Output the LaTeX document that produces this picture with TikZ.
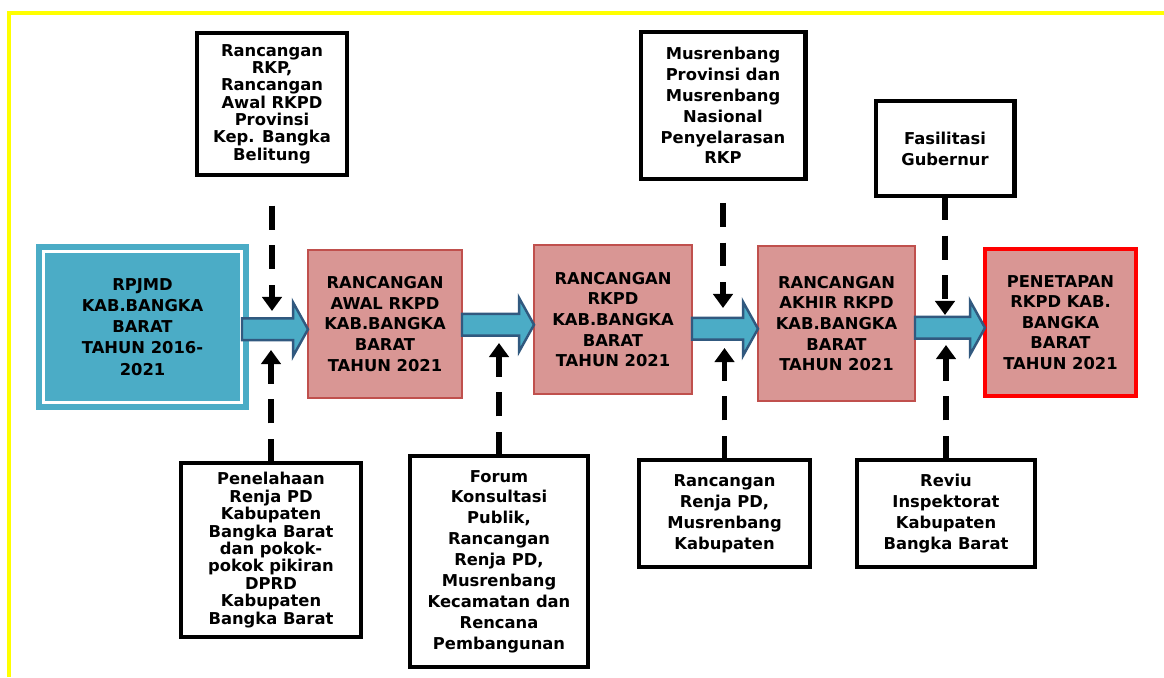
\documentclass[tikz,border=0pt]{standalone}
\usepackage{fontspec}
\usepackage{tikz}
\usetikzlibrary{arrows.meta,calc}
\newfontfamily\boxfont{DejaVu Sans}
\definecolor{aqua}{HTML}{4BACC6}
\definecolor{arrowline}{HTML}{31597F}
\definecolor{rosefill}{HTML}{D99694}
\definecolor{roseline}{HTML}{C0504D}
\definecolor{framey}{HTML}{FFFF00}
\tikzset{
  srcbox/.style={draw=black, line width=2.3pt, fill=white, align=center, inner sep=0pt, outer sep=0pt,
                 font=\boxfont\bfseries\fontsize{9.3}{11.9}\selectfont},
  densebox/.style={srcbox, font=\boxfont\bfseries\fontsize{9.3}{9.9}\selectfont},
  stagebox/.style={draw=roseline, line width=1.1pt, fill=rosefill, align=center, inner sep=0pt, outer sep=0pt,
                   font=\boxfont\bfseries\fontsize{9.3}{11.7}\selectfont},
  finalbox/.style={stagebox, draw=red, line width=2.3pt},
  startbox/.style={stagebox, fill=aqua, draw=aqua, double=white, line width=3.2pt, double distance=1.7pt,
                   font=\boxfont\bfseries\fontsize{9.3}{12}\selectfont},
  blockarr/.style={fill=aqua, draw=arrowline, line width=1.4pt, line join=miter},
  dashline/.style={line width=3.4pt, dash pattern=on 13.6pt off 9pt, -{Triangle[width=11pt,length=8pt]}}
}
\newcommand{\blockarrow}[2]{
  \draw[blockarr] let \p1=(#1.east), \p2=(#2.west) in
    (\x1,{\y2+3.2pt}) -- ({\x2-8.5pt},{\y2+3.2pt}) -- ({\x2-8.5pt},{\y2+12.3pt}) -- (\x2,{\y2-3pt})
    -- ({\x2-8.5pt},{\y2-18.3pt}) -- ({\x2-8.5pt},{\y2-9.2pt}) -- (\x1,{\y2-9.2pt}) -- cycle;
}

\begin{document}
\begin{tikzpicture}[x=0.02cm, y=-0.02cm]
	\useasboundingbox (0,0) rectangle (1164,677);
	\draw[framey, line width=2.3pt] (9,677) -- (9,13) -- (1164,13);

	\node[densebox, minimum width=3.0cm, minimum height=2.84cm] (rkp) at (272,104)
		{Rancangan\\RKP,\\Rancangan\\Awal RKPD\\Provinsi\\Kep. Bangka\\Belitung};
	\node[srcbox, minimum width=3.3cm, minimum height=2.94cm] (musnas) at (723,105.5)
		{Musrenbang\\Provinsi dan\\Musrenbang\\Nasional\\Penyelarasan\\RKP};
	\node[srcbox, minimum width=2.78cm, minimum height=1.9cm] (fasil) at (945,148.5)
		{Fasilitasi\\Gubernur};

	\node[startbox, minimum width=3.98cm, minimum height=3.04cm] (rpjmd) at (142.5,327)
		{RPJMD\\KAB.BANGKA\\BARAT\\TAHUN 2016-\\2021};
	\node[stagebox, minimum width=3.08cm, minimum height=2.96cm] (awal) at (385,324)
		{RANCANGAN\\AWAL RKPD\\KAB.BANGKA\\BARAT\\TAHUN 2021};
	\node[stagebox, minimum width=3.16cm, minimum height=2.98cm] (rkpd) at (613,319.5)
		{RANCANGAN\\RKPD\\KAB.BANGKA\\BARAT\\TAHUN 2021};
	\node[stagebox, minimum width=3.14cm, minimum height=3.1cm] (akhir) at (836.5,323.5)
		{RANCANGAN\\AKHIR RKPD\\KAB.BANGKA\\BARAT\\TAHUN 2021};
	\node[finalbox, minimum width=3.02cm, minimum height=2.94cm] (tetap) at (1060.5,322.5)
		{PENETAPAN\\RKPD KAB.\\BANGKA\\BARAT\\TAHUN 2021};

	\node[densebox, minimum width=3.6cm, minimum height=3.48cm] (telaah) at (271,550)
		{Penelahaan\\Renja PD\\Kabupaten\\Bangka Barat\\dan pokok-\\pokok pikiran\\DPRD\\Kabupaten\\Bangka Barat};
	\node[srcbox, minimum width=3.56cm, minimum height=4.22cm] (forum) at (499,561.5)
		{Forum\\Konsultasi\\Publik,\\Rancangan\\Renja PD,\\Musrenbang\\Kecamatan dan\\Rencana\\Pembangunan};
	\node[srcbox, minimum width=3.42cm, minimum height=2.14cm] (musrenkab) at (724.5,513.5)
		{Rancangan\\Renja PD,\\Musrenbang\\Kabupaten};
	\node[srcbox, minimum width=3.56cm, minimum height=2.14cm] (reviu) at (946,513.5)
		{Reviu\\Inspektorat\\Kabupaten\\Bangka Barat};

	\blockarrow{rpjmd}{awal}
	\blockarrow{awal}{rkpd}
	\blockarrow{rkpd}{akhir}
	\blockarrow{akhir}{tetap}

	\coordinate (downA) at (rkp.south |- 0,311);
	\coordinate (upA) at (telaah.north |- 0,350);
	\coordinate (upB) at (forum.north |- 0,343);
	\coordinate (downC) at (musnas.south |- 0,308);
	\coordinate (upC) at (musrenkab.north |- 0,348);
	\coordinate (downD) at (fasil.south |- 0,315);
	\coordinate (upD) at (reviu.north |- 0,345);
	\draw[dashline, shorten <=17.5pt] (rkp) -- (downA);
	\draw[dashline] (telaah) -- (upA);
	\draw[dashline] (forum) -- (upB);
	\draw[dashline, shorten <=13.6pt] (musnas) -- (downC);
	\draw[dashline] (musrenkab) -- (upC);
	\draw[dashline] (fasil) -- (downD);
	\draw[dashline] (reviu) -- (upD);
\end{tikzpicture}
\end{document}
